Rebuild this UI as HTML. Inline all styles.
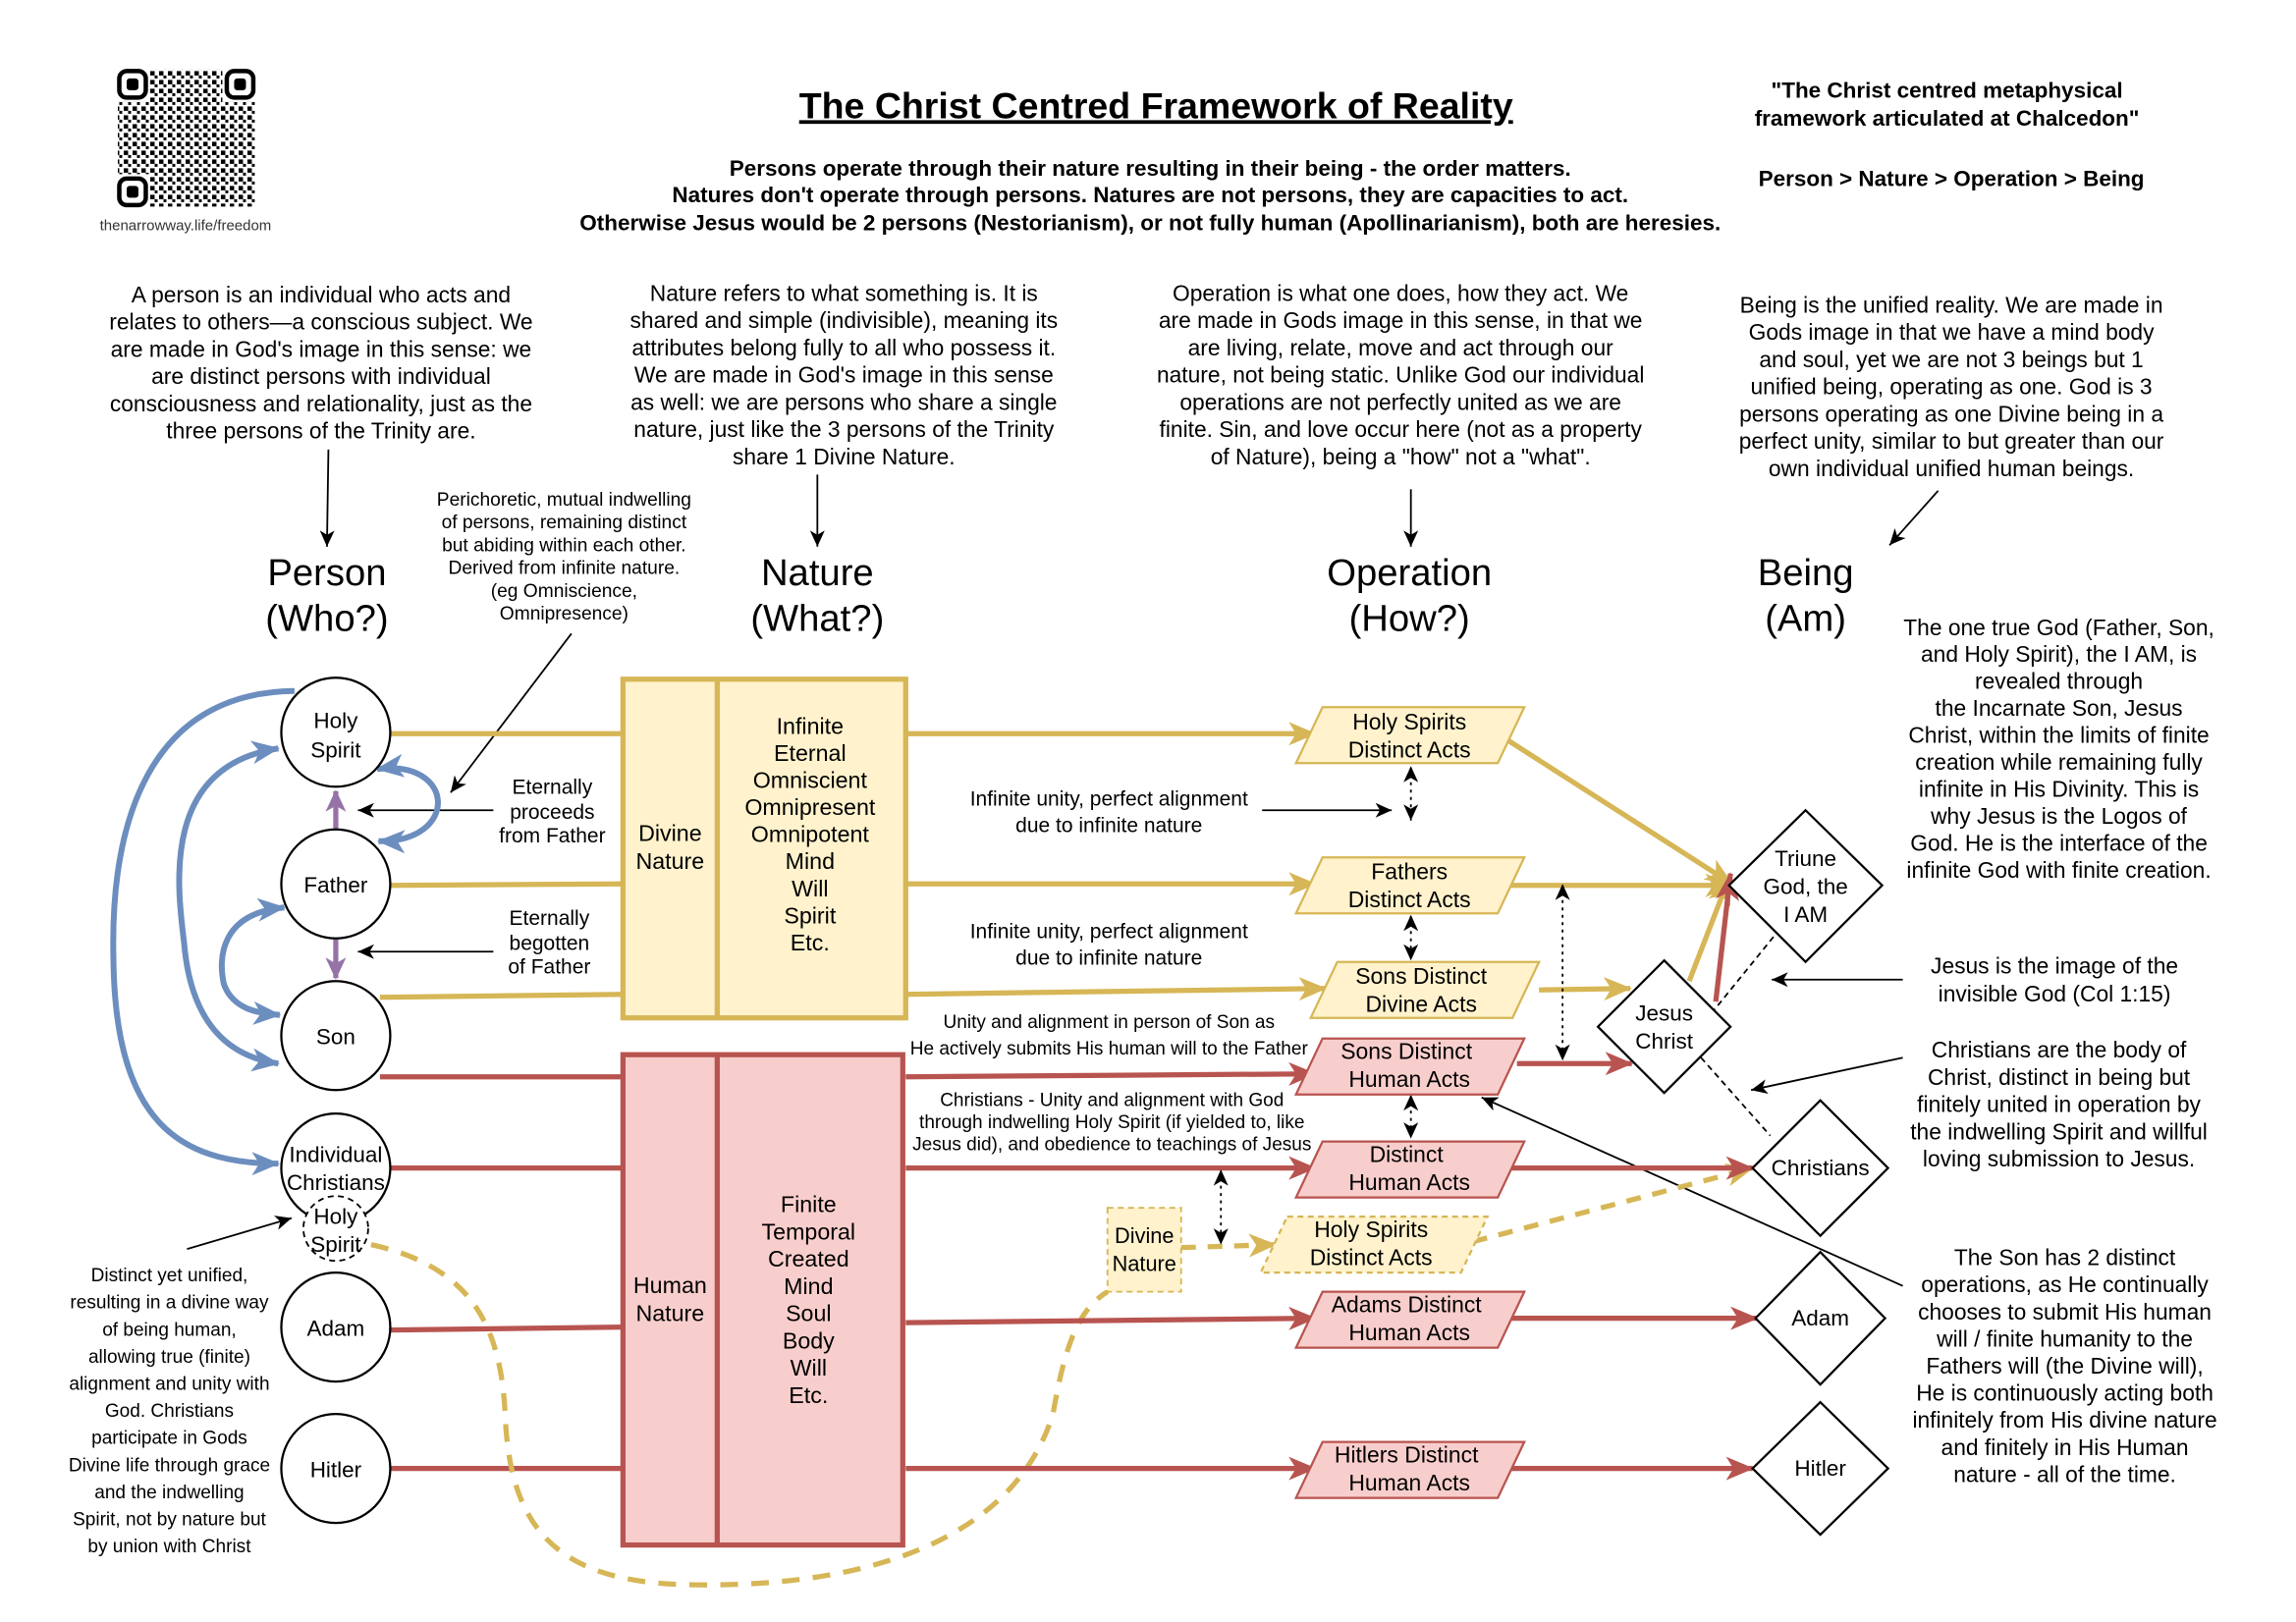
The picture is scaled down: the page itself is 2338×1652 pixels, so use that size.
<!DOCTYPE html>
<html><head><meta charset="utf-8"><style>
html,body{margin:0;padding:0;background:#fff;}
svg{display:block;font-family:"Liberation Sans",Arial,sans-serif;}
</style></head><body>
<svg width="2338" height="1652" viewBox="0 0 1559 1101" xmlns="http://www.w3.org/2000/svg">
<defs>
<marker id="ay" markerUnits="userSpaceOnUse" markerWidth="20" markerHeight="16" refX="18" refY="8" orient="auto"><path d="M0,0 L19,8 L0,16 L5,8 z" fill="#d6b656"/></marker>
<marker id="ar" markerUnits="userSpaceOnUse" markerWidth="20" markerHeight="16" refX="18" refY="8" orient="auto"><path d="M0,0 L19,8 L0,16 L5,8 z" fill="#b85450"/></marker>
<marker id="ab" markerUnits="userSpaceOnUse" markerWidth="20" markerHeight="16" refX="18" refY="8" orient="auto"><path d="M0,0 L19,8 L0,16 L5,8 z" fill="#6c8ebf"/></marker>
<marker id="abs" markerUnits="userSpaceOnUse" markerWidth="20" markerHeight="16" refX="1" refY="8" orient="auto"><path d="M19,0 L0,8 L19,16 L14,8 z" fill="#6c8ebf"/></marker>
<marker id="ap" markerUnits="userSpaceOnUse" markerWidth="16" markerHeight="14" refX="14" refY="7" orient="auto"><path d="M0,0 L15,7 L0,14 L4,7 z" fill="#9673a6"/></marker>
<marker id="ak" markerUnits="userSpaceOnUse" markerWidth="12" markerHeight="10" refX="11" refY="5" orient="auto"><path d="M0,0 L11,5 L0,10 L3,5 z" fill="#000"/></marker>
<marker id="aks" markerUnits="userSpaceOnUse" markerWidth="12" markerHeight="10" refX="1" refY="5" orient="auto"><path d="M11,0 L0,5 L11,10 L8,5 z" fill="#000"/></marker>
<pattern id="qr" width="6" height="6" patternUnits="userSpaceOnUse"><rect x="0" y="0" width="3" height="3" fill="#000"/><rect x="3" y="3" width="2" height="2" fill="#000"/></pattern>
</defs>

<!-- QR -->
<rect x="80" y="47" width="93" height="93" fill="url(#qr)"/>
<g fill="#fff"><rect x="78" y="45" width="24" height="24"/><rect x="151" y="45" width="24" height="24"/><rect x="78" y="118" width="24" height="24"/></g>
<g fill="none" stroke="#000" stroke-width="3"><rect x="81" y="48" width="18" height="18" rx="5"/><rect x="154" y="48" width="18" height="18" rx="5"/><rect x="81" y="121" width="18" height="18" rx="5"/></g>
<g fill="#000"><rect x="86" y="53" width="8" height="8" rx="2"/><rect x="159" y="53" width="8" height="8" rx="2"/><rect x="86" y="126" width="8" height="8" rx="2"/></g>
<text x="126" y="156" font-size="10" text-anchor="middle" fill="#333">thenarrowway.life/freedom</text>

<!-- Title -->
<text x="785" y="80" font-size="25" font-weight="bold" text-anchor="middle" text-decoration="underline">The Christ Centred Framework of Reality</text>
<g font-size="15" font-weight="bold" text-anchor="middle">
<text x="781" y="119">Persons operate through their nature resulting in their being - the order matters.</text>
<text x="781" y="137">Natures don't operate through persons. Natures are not persons, they are capacities to act.</text>
<text x="781" y="156">Otherwise Jesus would be 2 persons (Nestorianism), or not fully human (Apollinarianism), both are heresies.</text>
<text x="1322" y="66">"The Christ centred metaphysical</text>
<text x="1322" y="85">framework articulated at Chalcedon"</text>
<text x="1325" y="126">Person &gt; Nature &gt; Operation &gt;  Being</text>
</g>

<!-- description paragraphs -->
<g font-size="15.2" text-anchor="middle">
<text x="218" y="205">A person is an individual who acts and</text>
<text x="218" y="223.5">relates to others—a conscious subject. We</text>
<text x="218" y="242">are made in God's image in this sense: we</text>
<text x="218" y="260.5">are distinct persons with individual</text>
<text x="218" y="279">consciousness and relationality, just as the</text>
<text x="218" y="297.5">three persons of the Trinity are.</text>

<text x="573" y="204">Nature refers to what something is. It is</text>
<text x="573" y="222.5">shared and simple (indivisible), meaning its</text>
<text x="573" y="241">attributes belong fully to all who possess it.</text>
<text x="573" y="259.5">We are made in God's image in this sense</text>
<text x="573" y="278">as well: we are persons who share a single</text>
<text x="573" y="296.5">nature, just like the 3 persons of the Trinity</text>
<text x="573" y="315">share 1 Divine Nature.</text>

<text x="951" y="204">Operation is what one does, how they act.  We</text>
<text x="951" y="222.5">are made in Gods image in this sense, in that we</text>
<text x="951" y="241">are living, relate, move and act through our</text>
<text x="951" y="259.5">nature, not being static.  Unlike God our individual</text>
<text x="951" y="278">operations are not perfectly united as we are</text>
<text x="951" y="296.5">finite. Sin, and love occur here (not as a property</text>
<text x="951" y="315">of Nature), being a "how" not a "what".</text>

<text x="1325" y="212">Being is the unified reality. We are made in</text>
<text x="1325" y="230.5">Gods image in that we have a mind body</text>
<text x="1325" y="249">and soul, yet we are not 3 beings but 1</text>
<text x="1325" y="267.5">unified being, operating as one. God is 3</text>
<text x="1325" y="286">persons operating as one Divine being in a</text>
<text x="1325" y="304.5">perfect unity, similar to but greater than our</text>
<text x="1325" y="323">own individual unified human beings.</text>
</g>

<!-- header arrows -->
<g stroke="#000" stroke-width="1.2" marker-end="url(#ak)">
<line x1="223" y1="305" x2="222" y2="371"/>
<line x1="555" y1="322" x2="555" y2="371"/>
<line x1="958" y1="332" x2="958" y2="371"/>
<line x1="1316" y1="333" x2="1283" y2="370"/>
<line x1="388" y1="430" x2="306" y2="538"/>
<line x1="335" y1="550" x2="243" y2="550"/>
<line x1="335" y1="646" x2="243" y2="646"/>
<line x1="857" y1="550" x2="945" y2="550"/>
<line x1="1292" y1="665" x2="1203" y2="665"/>
<line x1="1292" y1="718" x2="1189" y2="740"/>
<line x1="1292" y1="873" x2="1006" y2="745"/>
<line x1="127" y1="848" x2="198" y2="827"/>
</g>

<!-- headings -->
<g font-size="25.5" text-anchor="middle">
<text x="222" y="397">Person</text><text x="222" y="428">(Who?)</text>
<text x="555" y="397">Nature</text><text x="555" y="428">(What?)</text>
<text x="957" y="397">Operation</text><text x="957" y="428">(How?)</text>
<text x="1226" y="397">Being</text><text x="1226" y="428">(Am)</text>
</g>

<g font-size="12.8" text-anchor="middle">
<text x="383" y="343">Perichoretic, mutual indwelling</text>
<text x="383" y="358.5">of persons, remaining distinct</text>
<text x="383" y="374">but abiding within each other.</text>
<text x="383" y="389.5">Derived from infinite nature.</text>
<text x="383" y="405">(eg Omniscience,</text>
<text x="383" y="420.5">Omnipresence)</text>
</g>
<g font-size="14" text-anchor="middle">
<text x="375" y="539">Eternally</text><text x="375" y="556">proceeds</text><text x="375" y="572">from Father</text>
<text x="373" y="628">Eternally</text><text x="373" y="645">begotten</text><text x="373" y="661">of Father</text>
</g>

<!-- blue curves -->
<g fill="none" stroke="#6c8ebf" stroke-width="4">
<path d="M200,469 C100,470 75,560 77,650 C78,760 120,790 189,790" marker-end="url(#ab)"/>
<path d="M189,508 C110,520 120,600 125,640 C130,700 160,718 189,722" marker-end="url(#ab)" marker-start="url(#abs)"/>
<path d="M193,616 C150,620 148,650 152,668 C158,685 175,688 190,689" marker-end="url(#ab)" marker-start="url(#abs)"/>
<path d="M256,522 C310,515 312,572 257,571" marker-end="url(#ab)" marker-start="url(#abs)"/>
</g>
<g stroke="#9673a6" stroke-width="3.5" marker-end="url(#ap)">
<line x1="228" y1="563" x2="228" y2="537"/>
<line x1="228" y1="637" x2="228" y2="664"/>
</g>

<!-- connectors person->nature -->
<g stroke="#d6b656" stroke-width="3.5">
<line x1="265" y1="498" x2="423" y2="498"/>
<line x1="265" y1="601" x2="423" y2="600"/>
<line x1="258" y1="677" x2="423" y2="675"/>
</g>
<g stroke="#b85450" stroke-width="3.5">
<line x1="258" y1="731" x2="423" y2="731"/>
<line x1="265" y1="793" x2="423" y2="793"/>
<line x1="265" y1="903" x2="423" y2="901"/>
<line x1="265" y1="997" x2="423" y2="997"/>
</g>

<!-- circles -->
<g fill="#fff" stroke="#000" stroke-width="1.5">
<circle cx="228" cy="497" r="37"/>
<circle cx="228" cy="600" r="37"/>
<circle cx="228" cy="703" r="37"/>
<circle cx="228" cy="793" r="37"/>
<circle cx="228" cy="901" r="37"/>
<circle cx="228" cy="997" r="37"/>
</g>
<circle cx="228" cy="834" r="22" fill="#fff" stroke="#000" stroke-width="1.2" stroke-dasharray="4,3"/>
<g font-size="15" text-anchor="middle">
<text x="228" y="494">Holy</text><text x="228" y="514">Spirit</text>
<text x="228" y="606">Father</text>
<text x="228" y="709">Son</text>
<text x="228" y="789">Individual</text><text x="228" y="808">Christians</text>
<text x="228" y="831">Holy</text><text x="228" y="850">Spirit</text>
<text x="228" y="907">Adam</text>
<text x="228" y="1003">Hitler</text>
</g>

<!-- nature boxes -->
<rect x="423" y="461" width="192" height="230" fill="#fff2cc" stroke="#d6b656" stroke-width="3.5"/>
<line x1="487" y1="461" x2="487" y2="691" stroke="#d6b656" stroke-width="3.5"/>
<rect x="423" y="716" width="190" height="333" fill="#f8cecc" stroke="#b85450" stroke-width="3.5"/>
<line x1="487" y1="716" x2="487" y2="1049" stroke="#b85450" stroke-width="3.5"/>
<g font-size="15.5" text-anchor="middle">
<text x="455" y="571">Divine</text><text x="455" y="590">Nature</text>
<text x="550" y="498">Infinite</text><text x="550" y="516.4">Eternal</text><text x="550" y="534.8">Omniscient</text><text x="550" y="553.2">Omnipresent</text><text x="550" y="571.6">Omnipotent</text><text x="550" y="590">Mind</text><text x="550" y="608.4">Will</text><text x="550" y="626.8">Spirit</text><text x="550" y="645.2">Etc.</text>
<text x="455" y="878">Human</text><text x="455" y="897">Nature</text>
<text x="549" y="823">Finite</text><text x="549" y="841.5">Temporal</text><text x="549" y="860">Created</text><text x="549" y="878.5">Mind</text><text x="549" y="897">Soul</text><text x="549" y="915.5">Body</text><text x="549" y="934">Will</text><text x="549" y="952.5">Etc.</text>
</g>

<!-- dashed yellow curve -->
<path d="M252,845 C320,860 340,900 343,960 C346,1040 380,1075 470,1076 C600,1078 690,1040 715,960 C722,920 730,890 752,877" fill="none" stroke="#d6b656" stroke-width="3.5" stroke-dasharray="12,9"/>

<!-- nature -> operation arrows -->
<g stroke="#d6b656" stroke-width="3.5" marker-end="url(#ay)">
<line x1="615" y1="498" x2="893" y2="498"/>
<line x1="615" y1="600" x2="893" y2="600"/>
<line x1="615" y1="675" x2="900" y2="671"/>
<line x1="1020" y1="500" x2="1176" y2="600"/>
<line x1="1025" y1="601" x2="1176" y2="601"/>
<line x1="1045" y1="672" x2="1107" y2="671"/>
<line x1="1147" y1="666" x2="1174" y2="596"/>
</g>
<g stroke="#d6b656" stroke-width="3.5" stroke-dasharray="10,8" marker-end="url(#ay)">
<line x1="802" y1="847" x2="866" y2="845"/>
<line x1="1000" y1="843" x2="1190" y2="793"/>
</g>
<g stroke="#b85450" stroke-width="3.5" marker-end="url(#ar)">
<line x1="615" y1="731" x2="893" y2="729"/>
<line x1="615" y1="793" x2="893" y2="793"/>
<line x1="615" y1="898" x2="893" y2="895"/>
<line x1="615" y1="997" x2="893" y2="997"/>
<line x1="1030" y1="722" x2="1108" y2="722"/>
<line x1="1165" y1="680" x2="1175" y2="593"/>
<line x1="1025" y1="793" x2="1190" y2="793"/>
<line x1="1025" y1="895" x2="1193" y2="895"/>
<line x1="1025" y1="997" x2="1190" y2="997"/>
</g>

<!-- dotted double arrows -->
<g stroke="#000" stroke-width="1.2" stroke-dasharray="2,3" marker-end="url(#ak)" marker-start="url(#aks)">
<line x1="958" y1="521" x2="958" y2="557"/>
<line x1="958" y1="622" x2="958" y2="652"/>
<line x1="958" y1="744" x2="958" y2="773"/>
<line x1="1061" y1="601" x2="1061" y2="720"/>
<line x1="829" y1="795" x2="829" y2="845"/>
</g>

<!-- operation text labels -->
<g font-size="14" text-anchor="middle">
<text x="753" y="547">Infinite unity, perfect alignment</text><text x="753" y="565">due to infinite nature</text>
<text x="753" y="637">Infinite unity, perfect alignment</text><text x="753" y="655">due to infinite nature</text>
</g>
<g font-size="12.7" text-anchor="middle">
<text x="753" y="698">Unity and alignment in person of Son as</text>
<text x="753" y="716">He actively submits His human will to the Father</text>
<text x="755" y="751">Christians - Unity and alignment with God</text>
<text x="755" y="766">through indwelling Holy Spirit (if yielded to, like</text>
<text x="755" y="781">Jesus did), and obedience to teachings of Jesus</text>
</g>

<!-- Divine Nature dashed box -->
<rect x="752" y="820" width="50" height="57" fill="#fff2cc" stroke="#d6b656" stroke-width="1.2" stroke-dasharray="4,3"/>
<g font-size="14.5" text-anchor="middle"><text x="777" y="844">Divine</text><text x="777" y="863">Nature</text></g>

<!-- parallelograms -->
<g stroke-width="1.5">
<polygon points="898,480 1035,480 1017,518 880,518" fill="#fff2cc" stroke="#d6b656"/>
<polygon points="898,582 1035,582 1017,620 880,620" fill="#fff2cc" stroke="#d6b656"/>
<polygon points="908,653 1045,653 1027,691 890,691" fill="#fff2cc" stroke="#d6b656"/>
<polygon points="898,705 1035,705 1017,743 880,743" fill="#f8cecc" stroke="#b85450"/>
<polygon points="898,775 1035,775 1017,813 880,813" fill="#f8cecc" stroke="#b85450"/>
<polygon points="874,826 1010,826 992,864 856,864" fill="#fff2cc" stroke="#d6b656" stroke-dasharray="4,3"/>
<polygon points="898,877 1035,877 1017,915 880,915" fill="#f8cecc" stroke="#b85450"/>
<polygon points="898,979 1035,979 1017,1017 880,1017" fill="#f8cecc" stroke="#b85450"/>
</g>
<g font-size="15.3" text-anchor="middle">
<text x="957" y="495">Holy Spirits</text><text x="957" y="514">Distinct Acts</text>
<text x="957" y="597">Fathers</text><text x="957" y="616">Distinct Acts</text>
<text x="965" y="668">Sons Distinct</text><text x="965" y="687">Divine Acts</text>
<text x="955" y="719">Sons Distinct</text><text x="957" y="738">Human Acts</text>
<text x="955" y="789">Distinct</text><text x="957" y="808">Human Acts</text>
<text x="931" y="840">Holy Spirits</text><text x="931" y="859">Distinct Acts</text>
<text x="955" y="891">Adams Distinct</text><text x="957" y="910">Human Acts</text>
<text x="955" y="993">Hitlers Distinct</text><text x="957" y="1012">Human Acts</text>
</g>

<!-- dashed black links -->
<g stroke="#000" stroke-width="1.2" stroke-dasharray="4,3">
<line x1="1162" y1="688" x2="1205" y2="635"/>
<line x1="1155" y1="718" x2="1202" y2="771"/>
</g>

<!-- diamonds -->
<g fill="#fff" stroke="#000" stroke-width="1.5">
<polygon points="1226,550 1278,601 1226,653 1174,601"/>
<polygon points="1130,652 1175,697 1130,742 1085,697"/>
<polygon points="1236,747 1282,793 1236,839 1190,793"/>
<polygon points="1236,850 1280,895 1236,940 1192,895"/>
<polygon points="1236,952 1282,997 1236,1042 1190,997"/>
</g>
<g font-size="15" text-anchor="middle">
<text x="1226" y="588">Triune</text><text x="1226" y="607">God, the</text><text x="1226" y="626">I AM</text>
<text x="1130" y="693">Jesus</text><text x="1130" y="712">Christ</text>
<text x="1236" y="798">Christians</text>
<text x="1236" y="900">Adam</text>
<text x="1236" y="1002">Hitler</text>
</g>

<!-- right texts -->
<g font-size="15.2" text-anchor="middle">
<text x="1398" y="431">The one true God (Father, Son,</text>
<text x="1398" y="449.3">and Holy Spirit), the I AM, is</text>
<text x="1398" y="467.6">revealed through</text>
<text x="1398" y="485.9">the Incarnate Son, Jesus</text>
<text x="1398" y="504.2">Christ,  within the limits of finite</text>
<text x="1398" y="522.5">creation while remaining fully</text>
<text x="1398" y="540.8">infinite in His Divinity. This is</text>
<text x="1398" y="559.1">why Jesus is the Logos of</text>
<text x="1398" y="577.4">God.  He is the interface of the</text>
<text x="1398" y="595.7">infinite God with finite creation.</text>
<text x="1395" y="661">Jesus is the image of the</text>
<text x="1395" y="680">invisible God (Col 1:15)</text>
<text x="1398" y="718">Christians are the body of</text>
<text x="1398" y="736.5">Christ, distinct in being but</text>
<text x="1398" y="755">finitely united in operation by</text>
<text x="1398" y="773.5">the indwelling Spirit and willful</text>
<text x="1398" y="792">loving submission to Jesus.</text>
<text x="1402" y="859">The Son has 2 distinct</text>
<text x="1402" y="877.4">operations, as He continually</text>
<text x="1402" y="895.8">chooses to submit His human</text>
<text x="1402" y="914.2">will / finite humanity to the</text>
<text x="1402" y="932.6">Fathers will (the Divine will),</text>
<text x="1402" y="951">He is continuously acting both</text>
<text x="1402" y="969.4">infinitely from His divine nature</text>
<text x="1402" y="987.8">and finitely in His Human</text>
<text x="1402" y="1006.2">nature - all of the time.</text>
</g>

<!-- left bottom text -->
<g font-size="12.7" text-anchor="middle">
<text x="115" y="870">Distinct yet unified,</text>
<text x="115" y="888.4">resulting in a divine way</text>
<text x="115" y="906.8">of being human,</text>
<text x="115" y="925.2">allowing true (finite)</text>
<text x="115" y="943.6">alignment and unity with</text>
<text x="115" y="962">God.  Christians</text>
<text x="115" y="980.4">participate in Gods</text>
<text x="115" y="998.8">Divine life through grace</text>
<text x="115" y="1017.2">and the indwelling</text>
<text x="115" y="1035.6">Spirit, not by nature but</text>
<text x="115" y="1054">by union with Christ</text>
</g>
</svg>
</body></html>
